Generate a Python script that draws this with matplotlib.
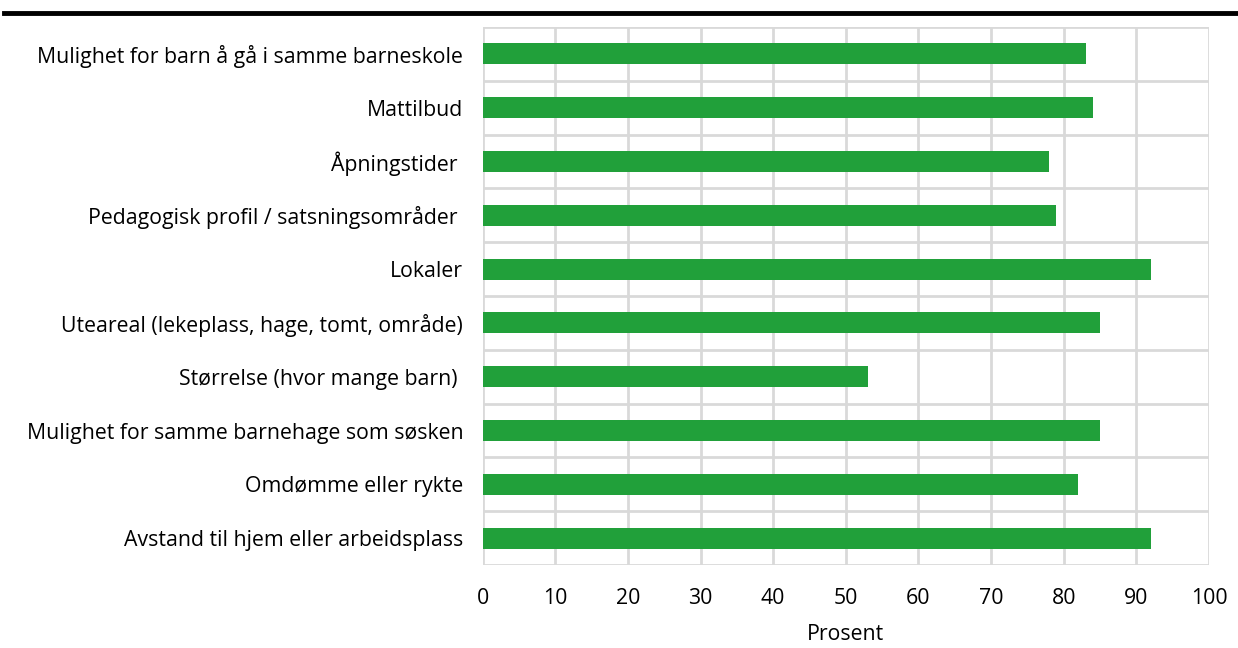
import matplotlib
matplotlib.use("Agg")
import matplotlib.pyplot as plt
from matplotlib.lines import Line2D
import numpy as np

categories = [
    "Mulighet for barn å gå i samme barneskole",
    "Mattilbud",
    "Åpningstider ",
    "Pedagogisk profil / satsningsområder ",
    "Lokaler",
    "Uteareal (lekeplass, hage, tomt, område)",
    "Størrelse (hvor mange barn) ",
    "Mulighet for samme barnehage som søsken",
    "Omdømme eller rykte",
    "Avstand til hjem eller arbeidsplass",
]
values = [83, 84, 78, 79, 92, 85, 53, 85, 82, 92]
xticks = list(range(0, 101, 10))

plt.rcParams['font.family'] = ['Open Sans', 'DejaVu Sans']

fig = plt.figure(figsize=(12.38, 6.48), dpi=100)
ax = fig.add_axes([0.3898, 0.128, 0.5868, 0.8303])

y = np.arange(len(categories))
ax.barh(y, values, height=0.39, color="#21a03a", zorder=3)
ax.set_xlim(0, 100)
ax.set_ylim(len(categories) - 0.5, -0.5)
ax.set_xticks(xticks)
ax.set_yticks(y)
ax.set_yticklabels(categories, fontsize=15.3)
ax.set_xticklabels([str(v) for v in xticks], fontsize=15.3)
ax.set_yticks(np.arange(-0.5, len(categories) + 0.5, 1), minor=True)
ax.tick_params(axis='both', which='both', length=0)
ax.tick_params(axis='y', pad=14)
ax.tick_params(axis='x', pad=16.5)
ax.grid(axis='x', which='major', color="#d9d9d9", linewidth=2, zorder=0)
ax.grid(axis='y', which='minor', color="#d9d9d9", linewidth=2, zorder=0)
ax.grid(axis='y', which='major', visible=False)
for s in ax.spines.values():
    s.set_visible(False)
ax.set_xlabel("Prosent", fontsize=15.3, labelpad=11)

fig.add_artist(Line2D([4/1238, 1.0], [1 - 13/648, 1 - 13/648], color="black", linewidth=3.5,
                      transform=fig.transFigure))

fig.savefig("out.png", dpi=100)
